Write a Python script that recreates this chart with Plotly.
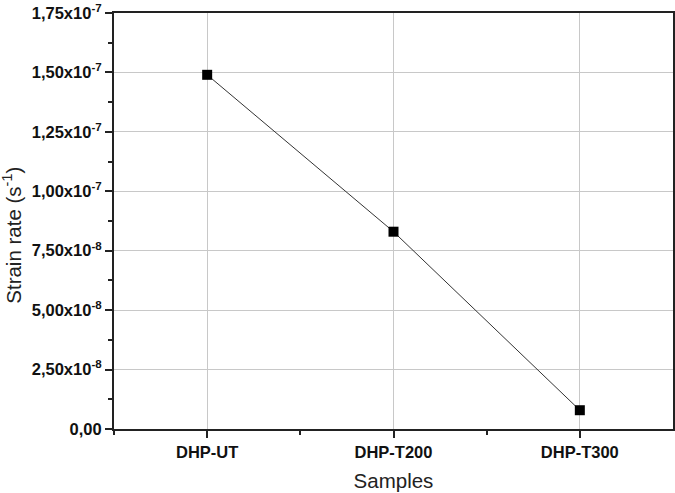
import plotly.graph_objects as go

# Sample labels and measured strain rates (s^-1)
samples = ["DHP-UT", "DHP-T200", "DHP-T300"]
strain_rate = [1.49e-7, 8.30e-8, 7.9e-9]

# Y tick positions and their labels
y_tickvals = [0, 2.5e-8, 5.0e-8, 7.5e-8, 1.0e-7, 1.25e-7, 1.5e-7, 1.75e-7]
y_ticktext = [
    "0,00",
    "2,50x10<sup>-8</sup>",
    "5,00x10<sup>-8</sup>",
    "7,50x10<sup>-8</sup>",
    "1,00x10<sup>-7</sup>",
    "1,25x10<sup>-7</sup>",
    "1,50x10<sup>-7</sup>",
    "1,75x10<sup>-7</sup>",
]

x_pos = list(range(len(samples)))

fig = go.Figure()
fig.add_trace(go.Scatter(
    x=x_pos,
    y=strain_rate,
    mode="lines+markers",
    line=dict(color="#333333", width=1),
    marker=dict(symbol="square", size=10, color="black"),
    showlegend=False,
))

tick_font = dict(family="Liberation Sans, Arial, sans-serif", size=16.5, color="#111111")
title_font = dict(family="Liberation Sans, Arial, sans-serif", size=20.5, color="#222222")

fig.update_layout(
    width=675,
    height=493,
    margin=dict(l=114, r=0, t=13, b=64),
    paper_bgcolor="white",
    plot_bgcolor="white",
    xaxis=dict(
        range=[-0.5, 2.5],
        tickmode="array",
        tickvals=x_pos,
        ticktext=["<b>%s</b>" % s for s in samples],
        tickfont=tick_font,
        showgrid=True,
        gridcolor="#c8c8c8",
        gridwidth=1,
        zeroline=False,
        showline=True,
        linecolor="#222222",
        linewidth=2,
        mirror=True,
        ticks="outside",
        ticklen=7,
        tickwidth=1.5,
        tickcolor="#222222",
        minor=dict(tickvals=[-0.5, 0.5, 1.5], ticks="outside", ticklen=4,
                   tickwidth=1.5, tickcolor="#222222", showgrid=False),
        title=dict(text="Samples", font=title_font, standoff=14),
    ),
    yaxis=dict(
        range=[0, 1.75e-7],
        tickmode="array",
        tickvals=y_tickvals,
        ticktext=["<b>%s</b>" % t for t in y_ticktext],
        tickfont=tick_font,
        showgrid=True,
        gridcolor="#c8c8c8",
        gridwidth=1,
        zeroline=False,
        showline=True,
        linecolor="#222222",
        linewidth=2,
        mirror=True,
        ticks="outside",
        ticklen=7,
        tickwidth=1.5,
        tickcolor="#222222",
        minor=dict(tickvals=[1.25e-8, 3.75e-8, 6.25e-8, 8.75e-8, 1.125e-7, 1.375e-7, 1.625e-7],
                   ticks="outside", ticklen=4, tickwidth=1.5, tickcolor="#222222",
                   showgrid=False),
    ),
)

# Y-axis title, placed a little below the plot's vertical centre
fig.add_annotation(
    text="Strain rate (s<sup>-1</sup>)",
    textangle=-90,
    xref="paper", yref="paper",
    x=-0.1814, y=0.466,
    xanchor="center", yanchor="middle",
    showarrow=False,
    font=title_font,
)

fig.write_html("out.html")
